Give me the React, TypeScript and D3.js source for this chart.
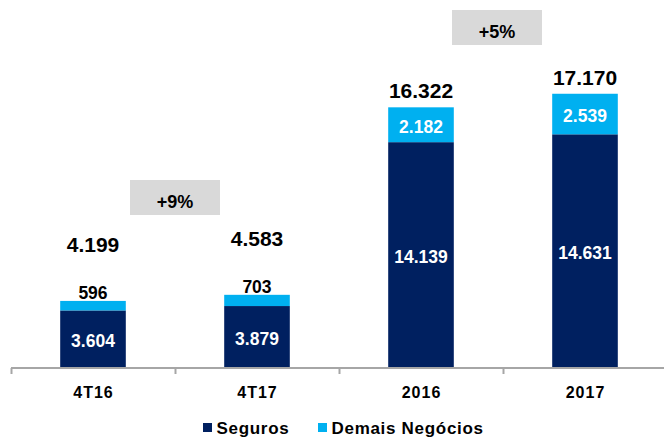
import React, { useEffect, useRef } from 'react'
import * as d3 from 'd3'

// data
const categories = ['4T16', '4T17', '2016', '2017']
const seguros = [3604, 3879, 14139, 14631]
const demais = [596, 703, 2182, 2539]
const totals = ['4.199', '4.583', '16.322', '17.170']
const segurosLabels = ['3.604', '3.879', '14.139', '14.631']
const demaisLabels = ['596', '703', '2.182', '2.539']
const growthFrom = ['4T16', '2016']
const growthTo = ['4T17', '2017']
const growthLabels = ['+9%', '+5%']
const legendLabels = ['Seguros', 'Demais Negócios']

const width = 664
const height = 438
const FONT = '"Liberation Sans", Arial, sans-serif'
const DARK = '#002060'
const LIGHT = '#00B0F0'

function App() {
  const svgRef = useRef<SVGSVGElement>(null)

  useEffect(() => {
    const svg = d3.select(svgRef.current)
    svg.selectAll('*').remove()

    const x = d3.scaleBand().domain(categories).range([11, 667]).paddingInner(0)
    const y = d3.scaleLinear().domain([0, 18000]).range([368, 80.5])
    const barW = x.bandwidth() * 0.4
    const barX = (c: string) => (x(c) as number) + (x.bandwidth() - barW) / 2
    const cx = (c: string) => (x(c) as number) + x.bandwidth() / 2

    const rows = categories.map((c, i) => ({
      c,
      s: seguros[i],
      d: demais[i],
      small: i < 2,
      total: totals[i],
      sl: segurosLabels[i],
      dl: demaisLabels[i],
    }))

    // growth boxes
    const boxTops = [180, 10]
    growthLabels.forEach((lab, i) => {
      const bx = ((x(growthFrom[i]) as number) + x.bandwidth() + (x(growthTo[i]) as number)) / 2 - (i === 1 ? 6 : 0)
      svg.append('rect')
        .attr('x', bx - 45)
        .attr('y', boxTops[i])
        .attr('width', 90)
        .attr('height', 35)
        .attr('fill', '#D9D9D9')
      svg.append('text')
        .attr('x', bx)
        .attr('y', boxTops[i] + 28)
        .attr('text-anchor', 'middle')
        .attr('font-family', FONT)
        .attr('font-weight', 'bold')
        .attr('font-size', 18)
        .attr('fill', '#000')
        .text(lab)
    })

    const g = svg.append('g')

    // dark segments
    g.selectAll('rect.seg')
      .data(rows)
      .join('rect')
      .attr('class', 'seg')
      .attr('x', d => barX(d.c))
      .attr('y', d => y(d.s))
      .attr('width', barW)
      .attr('height', d => y(0) - y(d.s))
      .attr('fill', DARK)

    // light segments
    g.selectAll('rect.dem')
      .data(rows)
      .join('rect')
      .attr('class', 'dem')
      .attr('x', d => barX(d.c))
      .attr('y', d => y(d.s + d.d))
      .attr('width', barW)
      .attr('height', d => y(d.s) - y(d.s + d.d))
      .attr('fill', LIGHT)

    // labels inside dark
    g.selectAll('text.sl')
      .data(rows)
      .join('text')
      .attr('class', 'sl')
      .attr('x', d => cx(d.c))
      .attr('y', d => (y(0) + y(d.s)) / 2 + 8)
      .attr('text-anchor', 'middle')
      .attr('font-family', FONT)
      .attr('font-weight', 'bold')
      .attr('font-size', 17.5)
      .attr('fill', '#fff')
      .text(d => d.sl)

    // demais labels
    g.selectAll('text.dl')
      .data(rows)
      .join('text')
      .attr('class', 'dl')
      .attr('x', d => cx(d.c))
      .attr('y', d => d.small ? y(d.s + d.d) - 2 : (y(d.s) + y(d.s + d.d)) / 2 + 8)
      .attr('text-anchor', 'middle')
      .attr('font-family', FONT)
      .attr('font-weight', 'bold')
      .attr('font-size', 17.5)
      .attr('fill', d => d.small ? '#000' : '#fff')
      .text(d => d.dl)

    // totals
    g.selectAll('text.tot')
      .data(rows)
      .join('text')
      .attr('class', 'tot')
      .attr('x', d => cx(d.c))
      .attr('y', d => y(d.s + d.d) - (d.small ? 49 : 9))
      .attr('text-anchor', 'middle')
      .attr('font-family', FONT)
      .attr('font-weight', 'bold')
      .attr('font-size', 21)
      .attr('fill', '#000')
      .text(d => d.total)

    // axis
    const axisY = y(0)
    svg.append('line')
      .attr('x1', 11).attr('x2', width)
      .attr('y1', axisY).attr('y2', axisY)
      .attr('stroke', '#A6A6A6').attr('stroke-width', 2)
    svg.selectAll('line.tick')
      .data(categories)
      .join('line')
      .attr('class', 'tick')
      .attr('x1', d => (x(d) as number) + 0.5)
      .attr('x2', d => (x(d) as number) + 0.5)
      .attr('y1', axisY)
      .attr('y2', axisY + 6)
      .attr('stroke', '#A6A6A6').attr('stroke-width', 2)

    svg.selectAll('text.cat')
      .data(categories)
      .join('text')
      .attr('class', 'cat')
      .attr('x', d => cx(d) + 0.5)
      .attr('y', 397.5)
      .attr('text-anchor', 'middle')
      .attr('font-family', FONT)
      .attr('font-weight', 'bold')
      .attr('font-size', 16)
      .attr('letter-spacing', 1)
      .attr('fill', '#000')
      .text(d => d)

    // legend
    const legendX = [203, 318]
    const legendColors = [DARK, LIGHT]
    legendLabels.forEach((lab, i) => {
      svg.append('rect')
        .attr('x', legendX[i]).attr('y', 423)
        .attr('width', 9).attr('height', 9)
        .attr('fill', legendColors[i])
      svg.append('text')
        .attr('x', legendX[i] + 13.5)
        .attr('y', 433.5)
        .attr('font-family', FONT)
        .attr('font-weight', 'bold')
        .attr('font-size', 17)
        .attr('letter-spacing', 0.7)
        .attr('fill', '#000')
        .text(lab)
    })
  }, [])

  return (
    <svg
      ref={svgRef}
      width={width}
      height={height}
      style={{ position: 'absolute', left: 0, top: 0, background: '#fff' }}
    />
  )
}

export default App
